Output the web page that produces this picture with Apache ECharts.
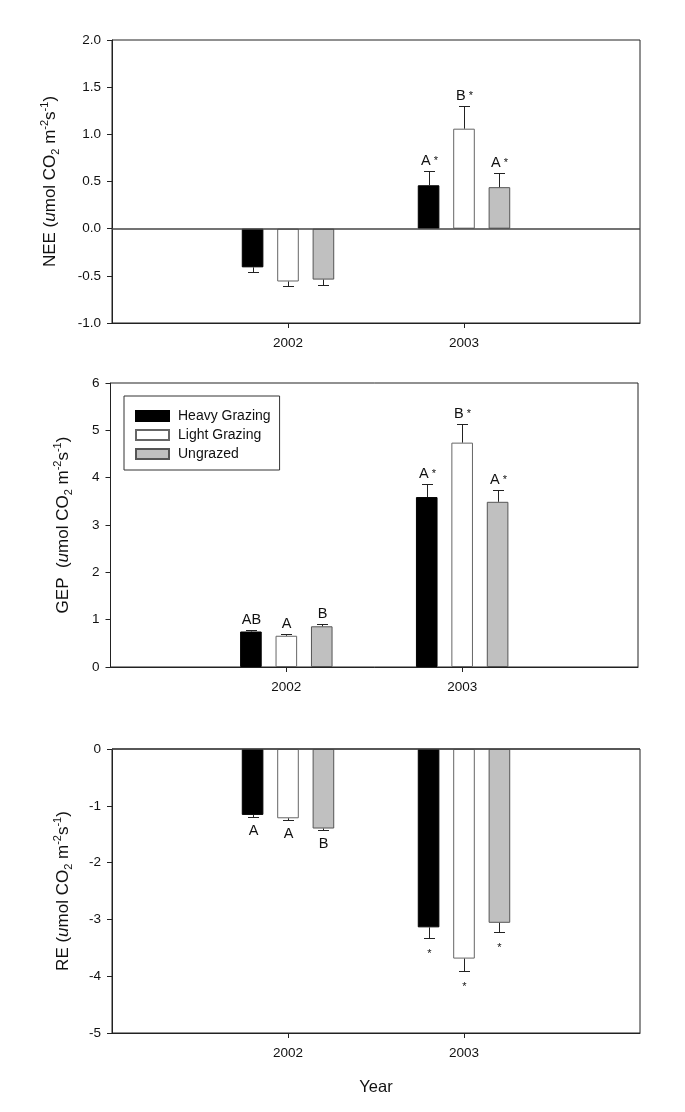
<!DOCTYPE html>
<html><head><meta charset="utf-8">
<script src="https://cdn.jsdelivr.net/npm/echarts@6/dist/echarts.min.js"></script>
<style>html,body{margin:0;padding:0;background:#fff}#c{width:685px;height:1112px}</style>
</head><body><div id="c"></div>
<script>
// ---------- data ----------
const years = ['2002', '2003'];
const treatments = ['Heavy Grazing', 'Light Grazing', 'Ungrazed'];

// NEE
const neeHeavy = [-0.41, 0.46];
const neeLight = [-0.56, 1.06];
const neeUngrazed = [-0.54, 0.44];
const neeErrHeavy = [0.045, 0.155];
const neeErrLight = [0.05, 0.24];
const neeErrUngrazed = [0.053, 0.148];
const neeLblHeavy = ['', 'A *'];
const neeLblLight = ['', 'B *'];
const neeLblUngrazed = ['', 'A *'];

// GEP
const gepHeavy = [0.75, 3.59];
const gepLight = [0.66, 4.74];
const gepUngrazed = [0.86, 3.49];
const gepErrHeavy = [0.04, 0.28];
const gepErrLight = [0.04, 0.40];
const gepErrUngrazed = [0.05, 0.26];
const gepLblHeavy = ['AB', 'A *'];
const gepLblLight = ['A', 'B *'];
const gepLblUngrazed = ['B', 'A *'];

// RE
const reHeavy = [-1.16, -3.14];
const reLight = [-1.22, -3.69];
const reUngrazed = [-1.40, -3.06];
const reErrHeavy = [0.035, 0.19];
const reErrLight = [0.03, 0.22];
const reErrUngrazed = [0.03, 0.17];
const reLblHeavy = ['A', '*'];
const reLblLight = ['A', '*'];
const reLblUngrazed = ['B', '*'];

// axis ranges
const neeAxis = { min: -1, max: 2, interval: 0.5, decimals: 1 };
const gepAxis = { min: 0, max: 6, interval: 1, decimals: 0 };
const reAxis = { min: -5, max: 0, interval: 1, decimals: 0 };

// ---------- styling / layout ----------
const FONT = '"Liberation Sans", Arial, sans-serif';
const fills = ['#000000', '#ffffff', '#c0c0c0'];
const borders = ['#000000', '#666666', '#555555'];
const BAR_W = 21.6;
const GAP_RATIO = 0.64;
const STEP = BAR_W * (1 + GAP_RATIO);
const CAP = 5.5;
const cats = [''].concat(years, ['']);

function titleRich(prefix) {
  return '{t|' + prefix + '(}{i|u}{t|mol CO}{sb|2}{t| m}{sp|-2}{t|s}{sp|-1}{t|)}';
}
const titleRichStyles = {
  t: { fontSize: 17, lineHeight: 22, fontFamily: FONT, color: '#111' },
  i: { fontSize: 17, lineHeight: 22, fontFamily: FONT, fontStyle: 'italic', color: '#111' },
  sb: { fontSize: 11, lineHeight: 10, fontFamily: FONT, verticalAlign: 'bottom', color: '#111' },
  sp: { fontSize: 11, lineHeight: 10, fontFamily: FONT, verticalAlign: 'top', color: '#111' }
};

const panels = [
  { vals: [neeHeavy, neeLight, neeUngrazed], errs: [neeErrHeavy, neeErrLight, neeErrUngrazed],
    lbls: [neeLblHeavy, neeLblLight, neeLblUngrazed], axis: neeAxis, title: titleRich('NEE '),
    nameGap: 51, grid: { left: 112, right: 45, top: 40, height: 283 }, zero: true },
  { vals: [gepHeavy, gepLight, gepUngrazed], errs: [gepErrHeavy, gepErrLight, gepErrUngrazed],
    lbls: [gepLblHeavy, gepLblLight, gepLblUngrazed], axis: gepAxis, title: titleRich('GEP  '),
    nameGap: 36, grid: { left: 110.5, right: 47, top: 383, height: 284 }, zero: false },
  { vals: [reHeavy, reLight, reUngrazed], errs: [reErrHeavy, reErrLight, reErrUngrazed],
    lbls: [reLblHeavy, reLblLight, reLblUngrazed], axis: reAxis, title: titleRich('RE '),
    nameGap: 38, grid: { left: 112, right: 45, top: 749, height: 284 }, zero: true }
];

function richLabel(s) {
  const m = s.match(/^([A-Z]*)(\s*\*)?$/);
  let out = '';
  if (m[1]) out += '{l|' + m[1] + '}';
  if (m[2]) out += '{s|' + m[2] + '}';
  return out;
}

const grids = [], xAxes = [], yAxes = [], series = [];
panels.forEach((p, i) => {
  grids.push(Object.assign({ show: true, borderColor: '#222', borderWidth: 1, backgroundColor: 'transparent' }, p.grid));
  xAxes.push({
    type: 'category', gridIndex: i, data: cats, boundaryGap: false,
    axisLine: { onZero: false, lineStyle: { color: '#222', width: 1 } },
    axisTick: { length: 5, interval: (idx) => idx === 1 || idx === 2, lineStyle: { color: '#222' } },
    axisLabel: { interval: (idx) => idx === 1 || idx === 2, margin: 13, fontSize: 13.5, color: '#111', fontFamily: FONT },
    splitLine: { show: false },
    name: i === 2 ? 'Year' : '', nameLocation: 'middle', nameGap: 46,
    nameTextStyle: { fontSize: 16.5, color: '#111', fontFamily: FONT }
  });
  yAxes.push({
    type: 'value', gridIndex: i, min: p.axis.min, max: p.axis.max, interval: p.axis.interval,
    axisLine: { show: true, lineStyle: { color: '#222', width: 1 } },
    axisTick: { show: true, length: 5, lineStyle: { color: '#222' } },
    axisLabel: { margin: 11, fontSize: 13.5, color: '#111', fontFamily: FONT,
      formatter: (v) => v.toFixed(p.axis.decimals) },
    splitLine: { show: false },
    name: p.title, nameLocation: 'middle', nameRotate: 90, nameGap: p.nameGap,
    nameTextStyle: { rich: titleRichStyles }
  });
  for (let k = 0; k < 3; k++) {
    const s = {
      type: 'bar', name: treatments[k], xAxisIndex: i, yAxisIndex: i,
      data: ['-'].concat(p.vals[k], ['-']),
      barWidth: BAR_W, barGap: (GAP_RATIO * 100) + '%',
      itemStyle: { color: fills[k], borderColor: borders[k], borderWidth: 1 },
      emphasis: { disabled: true }, silent: true, z: 2
    };
    if (k === 0 && p.zero) {
      s.markLine = { silent: true, symbol: ['none', 'none'], label: { show: false },
        lineStyle: { color: '#444', width: 1.5, type: 'solid' }, data: [{ yAxis: 0 }] };
    }
    series.push(s);
  }
  const ebData = [], ebLbl = [];
  for (let k = 0; k < 3; k++) {
    for (let j = 0; j < years.length; j++) {
      ebData.push([j + 1, p.vals[k][j], p.errs[k][j], k]);
      ebLbl.push(p.lbls[k][j]);
    }
  }
  series.push({
    type: 'custom', xAxisIndex: i, yAxisIndex: i, data: ebData, z: 5, silent: true,
    renderItem: (params, api) => {
      const ci = api.value(0), v = api.value(1), e = api.value(2), k = api.value(3);
      const sign = v >= 0 ? 1 : -1;
      const c0 = api.coord([ci, v]);
      const c1 = api.coord([ci, v + sign * e]);
      const x = Math.round(c0[0] + (k - 1) * STEP) + 0.5;
      const yb = c0[1], ye = Math.round(c1[1]) + 0.5;
      const children = [
        { type: 'line', shape: { x1: x, y1: yb, x2: x, y2: ye }, style: { stroke: '#222', lineWidth: 1 } },
        { type: 'line', shape: { x1: x - CAP, y1: ye, x2: x + CAP, y2: ye }, style: { stroke: '#222', lineWidth: 1 } }
      ];
      const lbl = ebLbl[params.dataIndex];
      if (lbl) {
        const starOnly = lbl.trim() === '*';
        children.push({
          type: 'text', x: x, y: sign > 0 ? ye - 3 : ye + (starOnly ? 10 : 6),
          style: {
            text: richLabel(lbl), align: 'center', verticalAlign: sign > 0 ? 'bottom' : 'top',
            fontSize: 14, fontFamily: FONT, fill: '#111',
            rich: {
              l: { fontSize: 14.5, fontFamily: FONT, fill: '#111' },
              s: { fontSize: 11, fontFamily: FONT, fill: '#111' }
            }
          }
        });
      }
      return { type: 'group', children: children };
    }
  });
});

const chart = echarts.init(document.getElementById('c'), null, { renderer: 'canvas' });
chart.setOption({
  animation: false,
  backgroundColor: '#ffffff',
  grid: grids, xAxis: xAxes, yAxis: yAxes, series: series,
  legend: {
    data: treatments, orient: 'vertical', left: 124, top: 396,
    padding: [13, 9, 9, 11], itemGap: 5, itemWidth: 33, itemHeight: 10,
    icon: 'rect', borderColor: '#333', borderWidth: 1, borderRadius: 0,
    selectedMode: false,
    textStyle: { fontSize: 14, color: '#111', fontFamily: FONT, padding: [0, 0, 0, 4] }
  }
});
</script></body></html>
